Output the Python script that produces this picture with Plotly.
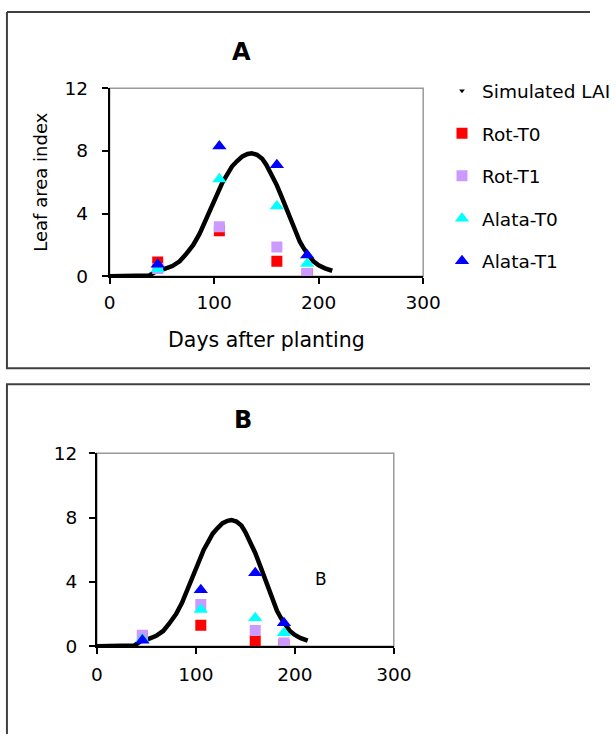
import plotly.graph_objects as go

# ---- data ----
sim_days = [0, 10, 20, 30, 38, 44, 50, 60, 67, 73, 80, 86, 92, 98, 103, 108, 113, 117, 122,
            127, 132, 136, 141, 146, 150, 155, 160, 165, 169, 173, 178, 182, 186, 190, 195,
            200, 206, 213]
sim_lai = [0, 0, 0, 0, 0.05, 0.3, 0.4, 0.65, 0.95, 1.4, 2.0, 2.7, 3.6, 4.6, 5.3, 6.0, 6.55,
           7.0, 7.35, 7.65, 7.8, 7.85, 7.75, 7.5, 7.1, 6.5, 5.8, 5.0, 4.3, 3.6, 2.8, 2.2, 1.75,
           1.35, 0.95, 0.7, 0.5, 0.35]

obs_days = [46, 105, 160, 189]

a_rot_t0 = [0.9, 2.9, 0.95, 0.15]
a_rot_t1 = [0.5, 3.15, 1.87, 0.17]
a_alata_t0 = [0.45, 6.2, 4.47, 0.8]
a_alata_t1 = [0.75, 8.3, 7.1, 1.34]

b_rot_t0 = [0.6, 1.3, 0.35, 0.1]
b_rot_t1 = [0.68, 2.6, 0.98, 0.2]
b_alata_t0 = [0.45, 2.28, 1.76, 0.83]
b_alata_t1 = [0.37, 3.5, 4.56, 1.45]

x_ticks = [0, 100, 200, 300]
y_ticks = [0, 4, 8, 12]

FONT = "DejaVu Sans"
W, H = 616, 744

# layout helpers: target picture pixel -> paper fraction
SX, OX = 0.9675, 4.25
SY, OY = 0.9717, 9.8


def px(x):
    return min(max((x - OX) / SX / W, 0.0), 1.0)


def py(y):
    return min(max(1 - (y - OY) / SY / H, 0.0), 1.0)


series = [
    ("Rot-T0", "square", "#FF0000", 11),
    ("Rot-T1", "square", "#CC99FF", 11),
    ("Alata-T0", "triangle-up", "#00FFFF", 12.5),
    ("Alata-T1", "triangle-up", "#0000FF", 12.5),
]
a_vals = [a_rot_t0, a_rot_t1, a_alata_t0, a_alata_t1]
b_vals = [b_rot_t0, b_rot_t1, b_alata_t0, b_alata_t1]

fig = go.Figure()

fig.add_trace(go.Scatter(x=sim_days, y=sim_lai, mode="lines", line=dict(color="black", width=4.5),
                         showlegend=False, xaxis="x", yaxis="y", hoverinfo="skip"))
fig.add_trace(go.Scatter(x=[None], y=[None], mode="markers", name="Simulated LAI",
                         marker=dict(symbol="triangle-down", size=5, color="black"),
                         legendgroup="g0", xaxis="x", yaxis="y"))
for i, ((name, sym, col, sz), vals) in enumerate(zip(series, a_vals)):
    fig.add_trace(go.Scatter(x=obs_days, y=vals, mode="markers", name=name,
                             marker=dict(symbol=sym, size=sz, color=col, line=dict(width=0)),
                             legendgroup=f"g{i+1}", xaxis="x", yaxis="y"))

fig.add_trace(go.Scatter(x=sim_days, y=sim_lai, mode="lines", line=dict(color="black", width=4.5),
                         showlegend=False, xaxis="x2", yaxis="y2", hoverinfo="skip"))
for (name, sym, col, sz), vals in zip(series, b_vals):
    fig.add_trace(go.Scatter(x=obs_days, y=vals, mode="markers", name=name, showlegend=False,
                             marker=dict(symbol=sym, size=sz, color=col, line=dict(width=0)),
                             xaxis="x2", yaxis="y2"))

TICKF = dict(family=FONT, size=18.5, color="black")
axis_common = dict(range=[0, 300], tickvals=x_ticks, ticks="outside", ticklen=6, tickwidth=2,
                   tickcolor="black", showline=True, linecolor="black", linewidth=2,
                   showgrid=False, zeroline=False, tickfont=TICKF)
yaxis_common = dict(range=[0, 12], tickvals=y_ticks, ticks="outside", ticklen=6, tickwidth=2,
                    tickcolor="black", showline=True, linecolor="black", linewidth=2,
                    showgrid=False, zeroline=False, tickfont=TICKF)

BOX = dict(color="#404040", width=2)


def hline(x0, x1, y):
    return dict(type="line", xref="paper", yref="paper", x0=px(x0), x1=px(x1), y0=py(y), y1=py(y), line=BOX)


left_edge = 1.0 / W
top_edge = 1 - 1.0 / H

fig.update_layout(
    width=W, height=H,
    margin=dict(l=0, r=0, t=0, b=0),
    paper_bgcolor="white", plot_bgcolor="white",
    font=dict(family=FONT, size=18, color="black"),
    xaxis=dict(domain=[px(110), px(430)], anchor="y", ticklabelstandoff=3,
               title=dict(text="Days after planting", font=dict(family=FONT, size=20.5), standoff=20),
               **axis_common),
    yaxis=dict(domain=[py(275), py(87)], anchor="x", ticklabelstandoff=10,
               title=dict(text="Leaf area index", font=dict(family=FONT, size=18), standoff=12),
               **yaxis_common),
    xaxis2=dict(domain=[px(97), px(400)], anchor="y2", ticklabelstandoff=5, **axis_common),
    yaxis2=dict(domain=[py(645), py(452)], anchor="x2", ticklabelstandoff=8, **yaxis_common),
    showlegend=True,
    legend=dict(x=460 / W, y=1 - 63 / H, xanchor="left", yanchor="top", bgcolor="rgba(0,0,0,0)",
                font=dict(family=FONT, size=18.5, color="black"), tracegroupgap=15.5, itemwidth=30,
                traceorder="grouped"),
    shapes=[
        dict(type="line", xref="paper", yref="paper", x0=left_edge, x1=1, y0=top_edge, y1=top_edge, line=BOX),
        hline(3, 640, 367),
        dict(type="line", xref="paper", yref="paper", x0=left_edge, x1=left_edge, y0=top_edge, y1=py(367), line=BOX),
        hline(3, 640, 383),
        dict(type="line", xref="paper", yref="paper", x0=left_edge, x1=left_edge, y0=py(383), y1=0, line=BOX),
        dict(type="rect", xref="x domain", yref="y domain", x0=0, x1=1, y0=0, y1=1,
             line=dict(color="#9a9a9a", width=1.5), layer="below"),
        dict(type="rect", xref="x2 domain", yref="y2 domain", x0=0, x1=1, y0=0, y1=1,
             line=dict(color="#9a9a9a", width=1.5), layer="below"),
    ],
    annotations=[
        dict(text="<b>A</b>", x=px(245), y=py(51), xref="paper", yref="paper", showarrow=False,
             xanchor="center", yanchor="middle", font=dict(family=FONT, size=24, color="black")),
        dict(text="<b>B</b>", x=px(246), y=py(419), xref="paper", yref="paper", showarrow=False,
             xanchor="center", yanchor="middle", font=dict(family=FONT, size=24, color="black")),
        dict(text="B", x=226, y=4.2, xref="x2", yref="y2", showarrow=False,
             xanchor="center", yanchor="middle", font=dict(family=FONT, size=17, color="black")),
    ],
)

fig.write_html("out.html", config={"displayModeBar": False},
               post_script="document.body.style.margin='0px';")
